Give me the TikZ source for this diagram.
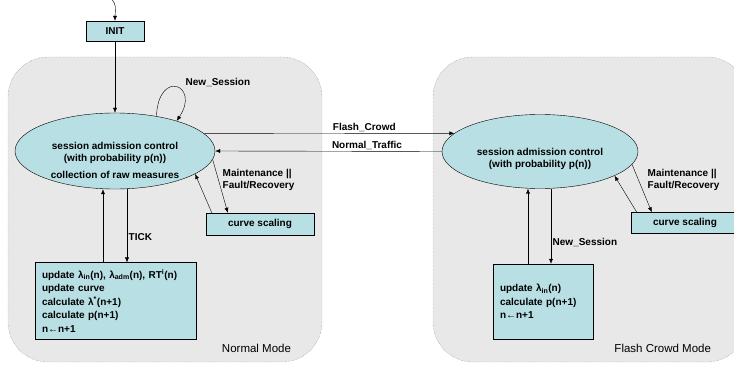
\documentclass[tikz,border=0pt]{standalone}
\usepackage{fontspec}
\setmainfont{Liberation Sans}
\usetikzlibrary{shapes.geometric, arrows.meta, positioning, calc}
\definecolor{cRegionBg}{HTML}{E8E8E8}
\definecolor{cRegionBorder}{HTML}{808080}
\definecolor{cStateBg}{HTML}{B8DFE3}
\definecolor{cLine}{HTML}{000000}

\begin{document}
\begin{tikzpicture}[
    x=1pt, y=1pt,
    font=\fontsize{10}{12}\selectfont\bfseries,
    >={Latex[length=5pt,width=4pt]},
    % Region and state styles
    mode_region/.style={rectangle, rounded corners=40pt, draw=cRegionBorder, densely dotted, fill=cRegionBg, minimum width=314pt, minimum height=305pt},
    mode_label/.style={font=\fontsize{11.5}{13}\selectfont\mdseries, anchor=south east, inner sep=0pt},
    state_ellipse/.style={ellipse, draw=cLine, thin, fill=cStateBg, inner sep=0pt},
    state_box/.style={rectangle, draw=cLine, thin, fill=cStateBg, align=center, inner sep=0pt},
    calc_box/.style={rectangle, draw=cLine, thin, fill=cStateBg, align=left, inner sep=7pt, font=\fontsize{10}{13.5}\selectfont\bfseries},
    edge_label/.style={inner sep=1.5pt},
    % Arrow style
    arrow/.style={->, thin, color=cLine}
]
\useasboundingbox (0,0) rectangle (734,370);

% --- MODE REGIONS ---
\node[mode_region] (normal_mode) at (165,160.5) {};
\node[mode_region] (flash_mode) at (590,160.5) {};
\node[mode_label, xshift=-31pt, yshift=9pt] at (normal_mode.south east) {Normal Mode};
\node[mode_label, xshift=-36pt, yshift=9pt] at (flash_mode.south east) {Flash Crowd Mode};

% --- NORMAL MODE ---
\coordinate (start) at (110,372);
\node[state_box, minimum width=58pt, minimum height=20pt] (init) at (115,339) {INIT};
\node[state_ellipse, minimum width=200pt, minimum height=76pt] (sac_normal) at (115,219) {};
\node[align=center, inner sep=0pt] at ([yshift=-9pt]sac_normal.center) {session admission control\\(with probability p(n))\\[5pt]collection of raw measures};
\node[state_box, minimum width=108pt, minimum height=22pt] (cs_normal) at (260,146) {curve scaling};
\node[calc_box, text width=147pt, minimum width=161pt, minimum height=76pt] (update_normal) at (115.5,69) {update λ\textsubscript{in}(n), λ\textsubscript{adm}(n), RT\textsuperscript{i}(n)\\update curve\\calculate λ\textsuperscript{*}(n+1)\\calculate p(n+1)\\n←n+1};

\draw[arrow] (start) .. controls +(8,-6) and +(0,10) .. (init.north);
\draw[arrow] (init) -- (sac_normal);
\draw[arrow] (sac_normal.40) .. controls +(2,48) and +(24,36) .. (sac_normal.26);
\node[edge_label, anchor=west] at (184,288) {New\_Session};

\draw[arrow] (sac_normal.-5) -- ([xshift=22pt]cs_normal.north west);
\draw[arrow] ([xshift=6pt]cs_normal.north west) -- (sac_normal.-16);
\node[edge_label, anchor=west, align=left] at (221,190) {Maintenance ||\\Fault/Recovery};

\draw[arrow] ([xshift=-12pt]sac_normal.south |- update_normal.north) -- ([xshift=-12pt]sac_normal.south);
\draw[arrow] ([xshift=12pt]sac_normal.south) -- node[edge_label, right, pos=0.65] {TICK} ([xshift=12pt]sac_normal.south |- update_normal.north);

% --- FLASH CROWD MODE ---
\node[state_ellipse, minimum width=196pt, minimum height=74pt] (sac_flash) at (540,218.5) {};
\node[align=center, inner sep=0pt] at ([yshift=-7pt]sac_flash.center) {session admission control\\(with probability p(n))};
\node[state_box, minimum width=108pt, minimum height=21pt] (cs_flash) at (685,147) {curve scaling};
\node[calc_box, text width=86pt, minimum width=100pt, minimum height=75pt] (update_flash) at (543,68.5) {update λ\textsubscript{in}(n)\\calculate p(n+1)\\n←n+1};

\draw[arrow] (sac_flash.-8) -- ([xshift=21pt]cs_flash.north west);
\draw[arrow] ([xshift=6pt]cs_flash.north west) -- (sac_flash.-18);
\node[edge_label, anchor=west, align=left] at (646,190) {Maintenance ||\\Fault/Recovery};

\draw[arrow] ([xshift=-12pt]sac_flash.south |- update_flash.north) -- ([xshift=-12pt]sac_flash.south);
\draw[arrow] ([xshift=11pt]sac_flash.south) -- node[edge_label, right, pos=0.71] {New\_Session} ([xshift=11pt]sac_flash.south |- update_flash.north);

% --- MODE SWITCHES ---
\draw[arrow] (sac_normal.11) -- node[edge_label, above, pos=0.64] {Flash\_Crowd} (sac_flash.168);
\draw[arrow] (sac_flash.west) -- node[edge_label, above, pos=0.33] {Normal\_Traffic} (sac_normal.east);

\end{tikzpicture}
\end{document}
